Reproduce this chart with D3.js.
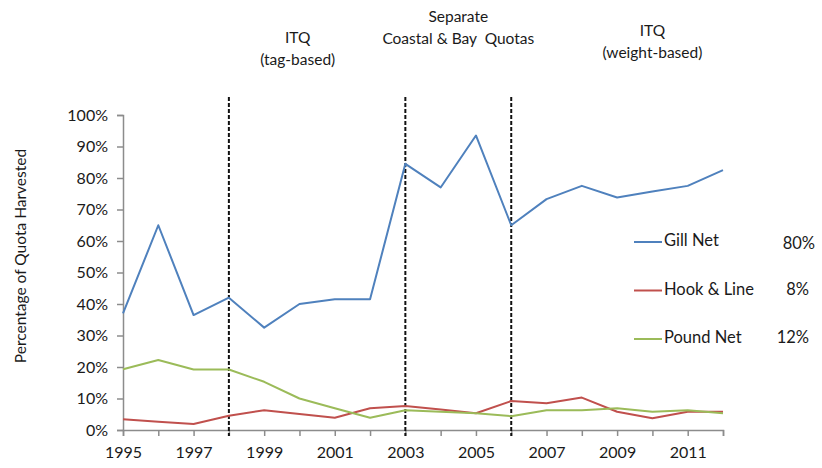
<!DOCTYPE html>
<html><head><meta charset="utf-8">
<script src="https://cdn.jsdelivr.net/npm/d3@7"></script>
<style>
body{margin:0;background:#fff;}
text{font-family:Lato,"Open Sans",sans-serif;fill:#1a1a1a;white-space:pre;}
</style></head>
<body><svg id="c" width="822" height="468"></svg>
<script>
const years = d3.range(1995, 2013);
const gillNet  = [37, 65, 36.5, 42, 32.5, 40, 41.5, 41.5, 84.5, 77, 93.5, 65, 73.3, 77.5, 73.8, 75.7, 77.5, 82.5];
const hookLine = [3.4, 2.6, 1.9, 4.5, 6.3, 5.1, 3.9, 6.9, 7.6, 6.5, 5.3, 9.2, 8.5, 10.3, 5.8, 3.7, 5.8, 5.8];
const poundNet = [19.3, 22.2, 19.2, 19.2, 15.3, 10.0, 6.9, 3.9, 6.3, 5.8, 5.3, 4.4, 6.3, 6.3, 6.9, 5.8, 6.3, 5.3];
const seriesNames = ["Gill Net", "Hook & Line", "Pound Net"];
const seriesShares = ["80%", "8%", "12%"];
const yTicks = [0,10,20,30,40,50,60,70,80,90,100];
const xLabelYears = [1995,1997,1999,2001,2003,2005,2007,2009,2011];
const breakYears = [1998, 2003, 2006];
const annotations = [
  {year: 1999.95, lines: ["ITQ", "(tag-based)"], row: 1},
  {year: 2004.5, lines: ["Separate", "Coastal & Bay  Quotas"], row: 0},
  {year: 2010.0, lines: ["ITQ", "(weight-based)"], row: 0.65}
];
const colors = ["#4F81BD", "#C0504D", "#9BBB59"];
const seriesData = [gillNet, hookLine, poundNet];

const svg = d3.select("#c");
const x = d3.scaleLinear().domain([1995, 2012]).range([123, 723]);
const y = d3.scaleLinear().domain([0, 100]).range([430, 115]);

// y axis
const yAxis = svg.append("g").attr("transform","translate(123,0)")
  .call(d3.axisLeft(y).tickValues(yTicks).tickFormat(d => d + "%").tickSize(6).tickPadding(9));
yAxis.selectAll("text").style("font-size","16px").style("font-family","Lato").attr("fill","#1a1a1a");
// x axis
const xAxis = svg.append("g").attr("transform","translate(0,430)")
  .call(d3.axisBottom(x).tickValues(years).tickFormat(d => xLabelYears.includes(d) ? d : "").tickSize(6).tickPadding(11));
xAxis.selectAll("text").style("font-size","16px").style("font-family","Lato").attr("fill","#1a1a1a");
svg.selectAll(".domain, .tick line").attr("stroke","#8c8c8c").attr("stroke-width",1.5);

// dashed lines
svg.selectAll(".brk").data(breakYears).join("line")
  .attr("x1", d => x(d)).attr("x2", d => x(d))
  .attr("y1", 97).attr("y2", 436)
  .attr("stroke","#111").attr("stroke-width",2).attr("stroke-dasharray","4,2");

// series lines
const line = d3.line().x((d,i) => x(years[i])).y(d => y(d));
seriesData.forEach((s, k) => {
  svg.append("path").datum(s).attr("d", line)
    .attr("fill","none").attr("stroke", colors[k]).attr("stroke-width",2).attr("stroke-linejoin","round");
});

// axis title
svg.append("text").attr("transform","translate(22,256) rotate(-90)")
  .attr("text-anchor","middle").attr("dominant-baseline","middle")
  .style("font-size","15.5px").text("Percentage of Quota Harvested");

// annotations
annotations.forEach(a => {
  a.lines.forEach((t, j) => {
    svg.append("text").attr("x", x(a.year)).attr("y", 18 + a.row*21 + j*22)
      .attr("text-anchor","middle").attr("dominant-baseline","middle")
      .style("font-size","15.5px").text(t);
  });
});

// legend
seriesNames.forEach((n, k) => {
  const ly = 242 + k*48.5;
  svg.append("line").attr("x1",634).attr("x2",662).attr("y1",ly).attr("y2",ly)
    .attr("stroke",colors[k]).attr("stroke-width",2);
  svg.append("text").attr("x",664).attr("y",ly).attr("dominant-baseline","middle")
    .style("font-size","16.5px").text(n);
  svg.append("text").attr("x", k===0 ? 815 : 809).attr("y",ly + (k===0?3:0)).attr("dominant-baseline","middle")
    .attr("text-anchor","end").style("font-size","16.5px").text(seriesShares[k]);
});
</script></body></html>
